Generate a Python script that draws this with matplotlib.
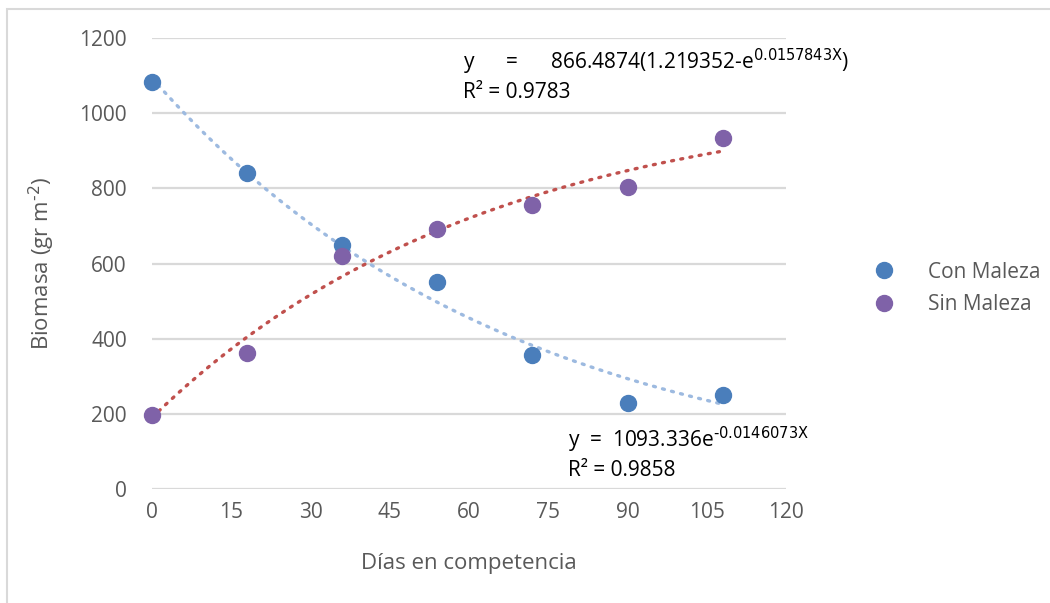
import numpy as np
import matplotlib
matplotlib.use("Agg")
import matplotlib.pyplot as plt
from matplotlib.patches import Rectangle

plt.rcParams["font.family"] = ["Open Sans", "DejaVu Sans"]
plt.rcParams["mathtext.default"] = "regular"

# data
dias = [0, 18, 36, 54, 72, 90, 108]
con_maleza = [1083, 840, 650, 551, 357, 229, 251]
sin_maleza = [197, 362, 621, 692, 756, 804, 934]

# fitted trendlines as printed on the chart
con_a, con_b = 1093.336, 0.0146073
sin_a, sin_c, sin_b = 866.4874, 1.219352, 0.0157843

xticks = [0, 15, 30, 45, 60, 75, 90, 105, 120]
yticks = [0, 200, 400, 600, 800, 1000, 1200]

grey = "#595959"
grid = "#d9d9d9"
blue = "#4a7ebb"
purple = "#7f62a8"

W, H = 1050, 603
fig = plt.figure(figsize=(W / 100, H / 100), dpi=100)
ax = fig.add_axes([152 / W, 1 - 489 / H, 634 / W, 451 / H])

# chart frame (only top and left visible in the crop)
fig.add_artist(Rectangle((7 / W, -0.2), 2, 1.2 - 9 / H, transform=fig.transFigure,
                         fill=False, edgecolor=grid, linewidth=1.5))

xx = np.linspace(dias[0], dias[-1], 200)
ax.plot(xx, con_a * np.exp(-con_b * xx), linestyle=(0, (0.6, 2.2)), dash_capstyle="round",
        color="#9dbae0", linewidth=2.4, zorder=2)
ax.plot(xx, sin_a * (sin_c - np.exp(-sin_b * xx)), linestyle=(0, (0.6, 2.2)), dash_capstyle="round",
        color="#c0504d", linewidth=2.4, zorder=2)

ax.plot(dias, con_maleza, "o", color=blue, markersize=11.5, label="Con Maleza", zorder=3, clip_on=False)
ax.plot(dias, sin_maleza, "o", color=purple, markersize=11.5, label="Sin Maleza", zorder=3, clip_on=False)

ax.set_xlim(0, 120)
ax.set_ylim(0, 1200)
ax.set_xticks(xticks)
ax.set_yticks(yticks)
ax.grid(axis="y", color=grid, linewidth=1.6)
ax.set_axisbelow(True)
for s in ax.spines.values():
    s.set_visible(False)
ax.tick_params(axis="both", length=0, labelsize=15, labelcolor=grey)
ax.tick_params(axis="y", pad=18)
ax.tick_params(axis="x", pad=9)

ax.set_xlabel("Días en competencia", fontsize=16, color=grey, labelpad=22)
ax.set_ylabel(r"Biomasa (gr m$^{\text{-2}}$)", fontsize=16, color=grey, labelpad=16)

# trendline equations (positions in figure pixels)
def fig_text(px, py, s):
    fig.text(px / W, 1 - py / H, s, fontsize=15, color="black", va="center", ha="left")

fig_text(463, 62, r"y      =      866.4874(1.219352-e$^{\text{0.0157843X}}$)")
fig_text(463, 93, "R² = 0.9783")
fig_text(568, 440, r"y  =  1093.336e$^{\text{-0.0146073X}}$")
fig_text(568, 470, "R² = 0.9858")

ax.legend(loc="center left", bbox_to_anchor=(1.105, 0.445), frameon=False, fontsize=15,
          labelcolor=grey, handletextpad=1.5, labelspacing=0.55, handlelength=1.2)

plt.savefig("out.png", dpi=100)
